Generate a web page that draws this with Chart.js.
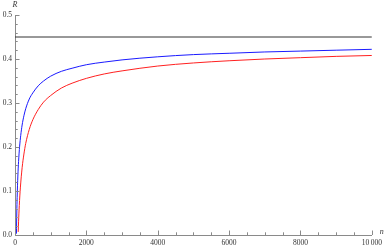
<!DOCTYPE html>
<html>
<head>
<meta charset="utf-8">
<script src="https://cdn.jsdelivr.net/npm/chart.js@4.4.1/dist/chart.umd.min.js"></script>
<style>
  html, body { margin: 0; padding: 0; background: #fff; }
  #wrap { width: 386px; height: 248px; }
</style>
</head>
<body>
<div id="wrap"><canvas id="chart"></canvas></div>
<script>
// values
const n_blue = [40, 50, 60, 80, 100, 130, 160, 200, 250, 300, 400, 500, 650, 800, 1000, 1300, 1600, 2000, 2500, 3000, 4000, 5000, 6000, 7000, 8000, 9000, 10000];
const r_blue = [0.003, 0.05, 0.085, 0.134, 0.167, 0.202, 0.226, 0.25, 0.271, 0.287, 0.309, 0.323, 0.339, 0.35, 0.361, 0.372, 0.379, 0.387, 0.393, 0.398, 0.405, 0.41, 0.413, 0.416, 0.418, 0.42, 0.422];

const n_red = [90, 100, 120, 150, 200, 250, 300, 400, 500, 650, 800, 1000, 1300, 1600, 2000, 2500, 3000, 4000, 5000, 6000, 7000, 8000, 9000, 10000];
const r_red = [0.007, 0.03, 0.067, 0.107, 0.153, 0.184, 0.208, 0.24, 0.262, 0.285, 0.302, 0.317, 0.334, 0.345, 0.356, 0.366, 0.373, 0.384, 0.391, 0.396, 0.4, 0.403, 0.406, 0.408];

const n_limit = [0, 10000];
const r_limit = [0.45, 0.45];

const x_ticks = [0, 2000, 4000, 6000, 8000, 10000];
const y_ticks = [0, 0.1, 0.2, 0.3, 0.4, 0.5];

const to_points = (xs, ys) => xs.map((x, i) => ({ x: x, y: ys[i] }));

const axis_color = "#8a8a8a";
const label_font = { family: "Liberation Serif", size: 7.5 };

// Mathematica-style ticks pointing into the plot, plus the axis letters
const inner_ticks = {
  id: "inner_ticks",
  afterDraw(chart) {
    const ctx = chart.ctx;
    const xs = chart.scales.x;
    const ys = chart.scales.y;
    const area = chart.chartArea;
    ctx.save();
    ctx.strokeStyle = axis_color;
    ctx.lineWidth = 1;
    ctx.beginPath();
    for (let v = 0; v <= 10000; v += 500) {
      const px = Math.round(xs.getPixelForValue(v)) + 0.5;
      const len = v % 2000 == 0 ? 4.5 : 2.7;
      ctx.moveTo(px, area.bottom);
      ctx.lineTo(px, area.bottom - len);
    }
    for (let k = 0; k <= 25; k++) {
      const py = Math.round(ys.getPixelForValue(k * 0.02)) + 0.5;
      const len = k % 5 == 0 ? 4.5 : 2.7;
      ctx.moveTo(area.left, py);
      ctx.lineTo(area.left + len, py);
    }
    ctx.stroke();

    ctx.fillStyle = "#333";
    ctx.font = "italic 8px 'Liberation Serif'";
    ctx.textAlign = "center";
    ctx.textBaseline = "alphabetic";
    ctx.fillText("R", area.left, area.top - 8);
    ctx.fillText("n", area.right + 10, area.bottom - 1);
    ctx.restore();
  },
};

new Chart(document.getElementById("chart"), {
  type: "line",
  data: {
    datasets: [
      {
        data: to_points(n_limit, r_limit),
        borderColor: "#333",
        borderWidth: 1,
        pointRadius: 0,
      },
      {
        data: to_points(n_blue, r_blue),
        borderColor: "#1a1aff",
        borderWidth: 1,
        pointRadius: 0,
        cubicInterpolationMode: "monotone",
      },
      {
        data: to_points(n_red, r_red),
        borderColor: "#ff2020",
        borderWidth: 1,
        pointRadius: 0,
        cubicInterpolationMode: "monotone",
      },
    ],
  },
  options: {
    responsive: true,
    maintainAspectRatio: false,
    animation: false,
    layout: { padding: { top: 15, right: 14, left: 0, bottom: 0 } },
    plugins: { legend: { display: false }, tooltip: { enabled: false } },
    scales: {
      x: {
        type: "linear",
        min: 0,
        max: 10000,
        afterFit: (s) => { s.height = 13; },
        afterBuildTicks: (s) => { s.ticks = x_ticks.map((v) => ({ value: v })); },
        grid: { drawOnChartArea: false, drawTicks: false },
        border: { color: axis_color, width: 1 },
        ticks: {
          padding: 4,
          color: "#333",
          font: label_font,
          maxRotation: 0,
          callback: (v) => (v == 10000 ? "10\u2009000" : String(v)),
        },
      },
      y: {
        min: 0,
        max: 0.5,
        afterFit: (s) => { s.width = 15; },
        afterBuildTicks: (s) => { s.ticks = y_ticks.map((v) => ({ value: v })); },
        grid: { drawOnChartArea: false, drawTicks: false },
        border: { color: axis_color, width: 1 },
        ticks: {
          padding: 3,
          color: "#333",
          font: label_font,
          callback: (v) => v.toFixed(1),
        },
      },
    },
  },
  plugins: [inner_ticks],
});
</script>
</body>
</html>
